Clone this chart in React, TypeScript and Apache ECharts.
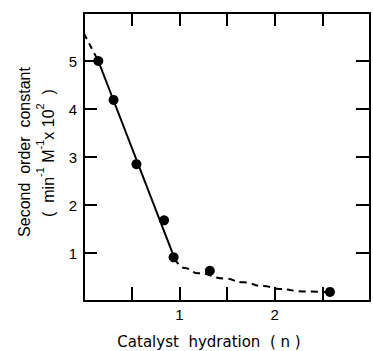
import React, { useEffect, useRef } from "react";
import * as echarts from "echarts";

// Measured data points (catalyst hydration n, second order constant)
const hydration = [0.15, 0.31, 0.55, 0.84, 0.94, 1.32, 2.58];
const rateConstant = [5.0, 4.19, 2.85, 1.68, 0.91, 0.63, 0.19];

// Solid straight-line fit
const solidX = [0.15, 0.95];
const solidY = [5.0, 0.89];

// Dashed extrapolation to n = 0
const topDashX = [0, 0.15];
const topDashY = [5.57, 5.0];

// Dashed curve beyond n = 1
const curveX = [0.95, 1.05, 1.2, 1.47, 1.67, 1.88, 2.05, 2.3, 2.55];
const curveY = [0.89, 0.69, 0.58, 0.47, 0.39, 0.31, 0.25, 0.2, 0.18];

const xTickLabels = ["1", "2"];
const yTickLabels = ["1", "2", "3", "4", "5"];

const pairs = (xs: number[], ys: number[]) => xs.map((x, i) => [x, ys[i]]);

export default function App() {
  const ref = useRef<HTMLDivElement>(null);
  useEffect(() => {
    if (!ref.current) return;
    const chart = echarts.init(ref.current, null, { renderer: "svg" });
    const axisLine = { show: true, onZero: false, lineStyle: { color: "#000", width: 2 } };
    const tick = (len: number) => ({
      show: true,
      inside: true,
      length: len,
      lineStyle: { color: "#000", width: 2 },
    });
    const font = "Liberation Sans";
    chart.setOption({
      animation: false,
      backgroundColor: "#fff",
      grid: { left: 84, right: 2, top: 13, bottom: 50 },
      xAxis: [
        {
          type: "value",
          position: "bottom",
          min: 0,
          max: 3,
          interval: 0.5,
          axisLine,
          axisTick: tick(14),
          splitLine: { show: false },
          axisLabel: {
            margin: 6,
            color: "#000",
            fontSize: 15,
            fontFamily: font,
            formatter: (v: number) => {
              const s = String(v);
              return xTickLabels.includes(s) ? s : "";
            },
          },
        },
        {
          type: "value",
          position: "top",
          min: 0,
          max: 3,
          interval: 0.5,
          axisLine,
          axisTick: tick(13),
          splitLine: { show: false },
          axisLabel: { show: false },
        },
      ],
      yAxis: [
        {
          type: "value",
          position: "left",
          min: 0,
          max: 6,
          interval: 1,
          axisLine,
          axisTick: tick(13),
          splitLine: { show: false },
          axisLabel: {
            margin: 7,
            color: "#000",
            fontSize: 15,
            fontFamily: font,
            formatter: (v: number) => {
              const s = String(v);
              return yTickLabels.includes(s) ? s : "";
            },
          },
        },
        {
          type: "value",
          position: "right",
          min: 0,
          max: 6,
          interval: 1,
          axisLine,
          axisTick: tick(14),
          splitLine: { show: false },
          axisLabel: { show: false },
        },
      ],
      series: [
        {
          type: "line",
          data: pairs(solidX, solidY),
          symbol: "none",
          lineStyle: { color: "#000", width: 2 },
        },
        {
          type: "line",
          data: pairs(topDashX, topDashY),
          symbol: "none",
          lineStyle: { color: "#000", width: 2, type: [6, 5] },
        },
        {
          type: "line",
          data: pairs(curveX, curveY),
          symbol: "none",
          smooth: 0.5,
          smoothMonotone: "x",
          lineStyle: { color: "#000", width: 2, type: [7, 5] },
        },
        {
          type: "scatter",
          data: pairs(hydration, rateConstant),
          symbol: "circle",
          symbolSize: 10,
          itemStyle: { color: "#000", opacity: 1 },
          z: 5,
        },
      ],
      graphic: [
        {
          type: "text",
          x: 24,
          y: 152,
          rotation: Math.PI / 2,
          style: {
            text: "Second  order  constant",
            fontSize: 16,
            fontFamily: font,
            fill: "#000",
            align: "center",
            verticalAlign: "middle",
          },
        },
        {
          type: "text",
          x: 45,
          y: 153,
          rotation: Math.PI / 2,
          style: {
            text: "{n|(  min}{s|-1}{n| M}{s|-1}{n|x 10}{s|2}{n|  )}",
            fontFamily: font,
            fill: "#000",
            align: "center",
            verticalAlign: "middle",
            rich: {
              n: { fontSize: 16, fontFamily: font, fill: "#000", lineHeight: 22, verticalAlign: "bottom" },
              s: { fontSize: 11, fontFamily: font, fill: "#000", lineHeight: 22, verticalAlign: "top" },
            },
          },
        },
        {
          type: "text",
          x: 209,
          y: 342,
          style: {
            text: "Catalyst  hydration  ( n )",
            fontSize: 15,
            fontFamily: "DejaVu Sans",
            fill: "#000",
            align: "center",
            verticalAlign: "middle",
          },
        },
      ],
    });
    return () => chart.dispose();
  }, []);
  return (
    <div
      ref={ref}
      style={{ position: "fixed", left: 0, top: 0, width: 373, height: 351 }}
    />
  );
}
